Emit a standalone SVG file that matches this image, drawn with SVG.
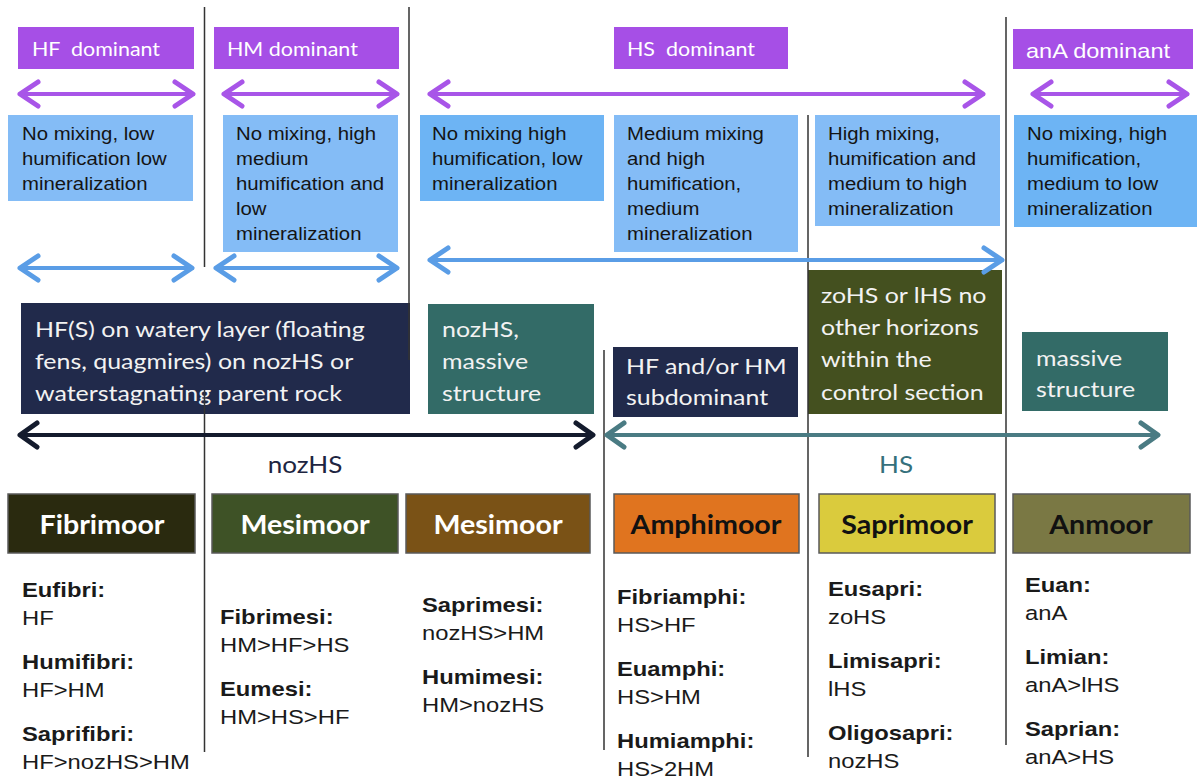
<svg xmlns="http://www.w3.org/2000/svg" width="1197" height="780" viewBox="0 0 1197 780">
<style>
.hdr{font-family:Lato,"Open Sans",sans-serif;font-size:18.5px;fill:#fff;white-space:pre}
.hdrA{font-family:"Liberation Sans",Arial,sans-serif;font-size:20.5px;fill:#fff}
.pb{fill:#a64fe6}
.lb1{fill:#84bcf6}
.lb2{fill:#6db4f4}
.bt{font-family:"Liberation Sans",Arial,sans-serif;font-size:18.5px;fill:#141414}
.dt{font-family:Lato,"Open Sans",sans-serif;font-size:21.5px;fill:#f2f2f2}
.navy{fill:#212a4b}
.teal{fill:#336b67}
.olive{fill:#44501f}
.cat{stroke:#5a5a5a;stroke-width:1.5}
.ct{font-family:Lato,"Open Sans",sans-serif;font-size:26px;font-weight:bold;text-anchor:middle}
.lab{font-family:"Liberation Sans",Arial,sans-serif;font-size:20.5px;fill:#1a1a1a}
.lab .k{font-weight:bold}
.vl{stroke:#333;stroke-width:1.5;fill:none}
.arr{fill:none;stroke-width:4}
.axl{font-family:Lato,"Open Sans",sans-serif;font-size:22.5px;text-anchor:middle}
</style>
<defs>
<marker id="mP" markerUnits="userSpaceOnUse" viewBox="-22 -15 26 30" refX="-2" refY="0" markerWidth="26" markerHeight="30" orient="auto-start-reverse"><path d="M-18,-12 L0,0 L-18,12" fill="none" stroke="#a855e8" stroke-width="5" stroke-linecap="round" stroke-linejoin="round"/></marker>
<marker id="mB" markerUnits="userSpaceOnUse" viewBox="-22 -15 26 30" refX="-2" refY="0" markerWidth="26" markerHeight="30" orient="auto-start-reverse"><path d="M-18,-12 L0,0 L-18,12" fill="none" stroke="#5a9de6" stroke-width="5" stroke-linecap="round" stroke-linejoin="round"/></marker>
<marker id="mD" markerUnits="userSpaceOnUse" viewBox="-22 -15 26 30" refX="-2" refY="0" markerWidth="26" markerHeight="30" orient="auto-start-reverse"><path d="M-17,-12 L0,0 L-17,12" fill="none" stroke="#141b2d" stroke-width="5" stroke-linecap="round" stroke-linejoin="round"/></marker>
<marker id="mT" markerUnits="userSpaceOnUse" viewBox="-22 -15 26 30" refX="-2" refY="0" markerWidth="26" markerHeight="30" orient="auto-start-reverse"><path d="M-17,-12 L0,0 L-17,12" fill="none" stroke="#4a7b83" stroke-width="5" stroke-linecap="round" stroke-linejoin="round"/></marker>
</defs>
<rect width="1197" height="780" fill="#fff"/>

<!-- dominance headers -->
<g id="hdr-hf"><rect class="pb" x="18" y="27" width="176" height="42"/><text class="hdr" transform="translate(32 56) scale(1.16 1)" xml:space="preserve">HF  dominant</text></g>
<g id="hdr-hm"><rect class="pb" x="214" y="27" width="185" height="42"/><text class="hdr" transform="translate(227 56) scale(1.16 1)">HM dominant</text></g>
<g id="hdr-hs"><rect class="pb" x="614" y="27" width="174" height="42"/><text class="hdr" transform="translate(627 56) scale(1.16 1)" xml:space="preserve">HS  dominant</text></g>
<g id="hdr-ana"><rect class="pb" x="1013" y="29" width="180" height="40"/><text class="hdrA" transform="translate(1026 58) scale(1.15 1)">anA dominant</text></g>

<!-- process descriptions -->
<g id="desc-1"><rect class="lb1" x="8" y="115" width="185" height="86"/><text class="bt" transform="translate(22 0) scale(1.1 1)"><tspan x="0" y="140">No mixing, low</tspan><tspan x="0" y="165">humification low</tspan><tspan x="0" y="190">mineralization</tspan></text></g>
<g id="desc-2"><rect class="lb1" x="223" y="115" width="175" height="137"/><text class="bt" transform="translate(236 0) scale(1.1 1)"><tspan x="0" y="140">No mixing, high</tspan><tspan x="0" y="165">medium</tspan><tspan x="0" y="190">humification and</tspan><tspan x="0" y="215">low</tspan><tspan x="0" y="240">mineralization</tspan></text></g>
<g id="desc-3"><rect class="lb2" x="420" y="115" width="184" height="86"/><text class="bt" transform="translate(432 0) scale(1.1 1)"><tspan x="0" y="140">No mixing high</tspan><tspan x="0" y="165">humification, low</tspan><tspan x="0" y="190">mineralization</tspan></text></g>
<g id="desc-4"><rect class="lb1" x="614" y="115" width="184" height="137"/><text class="bt" transform="translate(627 0) scale(1.1 1)"><tspan x="0" y="140">Medium mixing</tspan><tspan x="0" y="165">and high</tspan><tspan x="0" y="190">humification,</tspan><tspan x="0" y="215">medium</tspan><tspan x="0" y="240">mineralization</tspan></text></g>
<g id="desc-5"><rect class="lb1" x="815" y="115" width="185" height="111"/><text class="bt" transform="translate(828 0) scale(1.1 1)"><tspan x="0" y="140">High mixing,</tspan><tspan x="0" y="165">humification and</tspan><tspan x="0" y="190">medium to high</tspan><tspan x="0" y="215">mineralization</tspan></text></g>
<g id="desc-6"><rect class="lb2" x="1014" y="115" width="183" height="112"/><text class="bt" transform="translate(1027 0) scale(1.1 1)"><tspan x="0" y="140">No mixing, high</tspan><tspan x="0" y="165">humification,</tspan><tspan x="0" y="190">medium to low</tspan><tspan x="0" y="215">mineralization</tspan></text></g>

<!-- horizon descriptions -->
<g id="hz-hfs"><rect class="navy" x="21" y="303" width="389" height="111"/><text class="dt" transform="translate(35 0) scale(1.16 1)"><tspan x="0" y="337">HF(S) on watery layer (floating</tspan><tspan x="0" y="369">fens, quagmires) on nozHS or</tspan><tspan x="0" y="401">waterstagnating parent rock</tspan></text></g>
<g id="hz-noz"><rect class="teal" x="428" y="304" width="166" height="110"/><text class="dt" transform="translate(442 0) scale(1.16 1)"><tspan x="0" y="337">nozHS,</tspan><tspan x="0" y="369">massive</tspan><tspan x="0" y="401">structure</tspan></text></g>
<g id="hz-sub"><rect class="navy" x="613" y="347" width="185" height="70"/><text class="dt" transform="translate(626 0) scale(1.16 1)"><tspan x="0" y="374">HF and/or HM</tspan><tspan x="0" y="405">subdominant</tspan></text></g>
<g id="hz-zo"><rect class="olive" x="808" y="270" width="194" height="144"/><text class="dt" transform="translate(821 0) scale(1.16 1)"><tspan x="0" y="303">zoHS or lHS no</tspan><tspan x="0" y="335">other horizons</tspan><tspan x="0" y="367">within the</tspan><tspan x="0" y="400">control section</tspan></text></g>
<g id="hz-mass"><rect class="teal" x="1022" y="332" width="146" height="79"/><text class="dt" transform="translate(1036 0) scale(1.16 1)"><tspan x="0" y="366">massive</tspan><tspan x="0" y="397">structure</tspan></text></g>

<!-- moor types -->
<g id="t-fibri"><rect class="cat" x="8" y="494" width="187" height="59" fill="#2a2a0f"/><text class="ct" fill="#fff" transform="translate(102 534) scale(1.1 1)">Fibrimoor</text></g>
<g id="t-mesi1"><rect class="cat" x="212" y="494" width="186" height="59" fill="#3e5226"/><text class="ct" fill="#fff" transform="translate(305 534) scale(1.1 1)">Mesimoor</text></g>
<g id="t-mesi2"><rect class="cat" x="406" y="494" width="184" height="59" fill="#7a5216"/><text class="ct" fill="#fff" transform="translate(498 534) scale(1.1 1)">Mesimoor</text></g>
<g id="t-amphi"><rect class="cat" x="614" y="494" width="185" height="59" fill="#e0741f"/><text class="ct" fill="#111" transform="translate(706 534) scale(1.1 1)">Amphimoor</text></g>
<g id="t-sapri"><rect class="cat" x="819" y="494" width="176" height="59" fill="#dacb3d"/><text class="ct" fill="#111" transform="translate(907 534) scale(1.1 1)">Saprimoor</text></g>
<g id="t-an"><rect class="cat" x="1013" y="494" width="177" height="59" fill="#7a7844"/><text class="ct" fill="#111" transform="translate(1101 534) scale(1.1 1)">Anmoor</text></g>

<!-- subtypes -->
<g id="s-fibri"><text class="lab" transform="translate(22 0) scale(1.16 1)"><tspan class="k" x="0" y="597">Eufibri:</tspan><tspan x="0" y="625">HF</tspan><tspan class="k" x="0" y="669">Humifibri:</tspan><tspan x="0" y="697">HF&gt;HM</tspan><tspan class="k" x="0" y="741">Saprifibri:</tspan><tspan x="0" y="769">HF&gt;nozHS&gt;HM</tspan></text></g>
<g id="s-mesi1"><text class="lab" transform="translate(220 0) scale(1.16 1)"><tspan class="k" x="0" y="624">Fibrimesi:</tspan><tspan x="0" y="652">HM&gt;HF&gt;HS</tspan><tspan class="k" x="0" y="696">Eumesi:</tspan><tspan x="0" y="724">HM&gt;HS&gt;HF</tspan></text></g>
<g id="s-mesi2"><text class="lab" transform="translate(422 0) scale(1.16 1)"><tspan class="k" x="0" y="612">Saprimesi:</tspan><tspan x="0" y="640">nozHS&gt;HM</tspan><tspan class="k" x="0" y="684">Humimesi:</tspan><tspan x="0" y="712">HM&gt;nozHS</tspan></text></g>
<g id="s-amphi"><text class="lab" transform="translate(617 0) scale(1.16 1)"><tspan class="k" x="0" y="604">Fibriamphi:</tspan><tspan x="0" y="632">HS&gt;HF</tspan><tspan class="k" x="0" y="676">Euamphi:</tspan><tspan x="0" y="704">HS&gt;HM</tspan><tspan class="k" x="0" y="748">Humiamphi:</tspan><tspan x="0" y="776">HS&gt;2HM</tspan></text></g>
<g id="s-sapri"><text class="lab" transform="translate(828 0) scale(1.16 1)"><tspan class="k" x="0" y="596">Eusapri:</tspan><tspan x="0" y="624">zoHS</tspan><tspan class="k" x="0" y="668">Limisapri:</tspan><tspan x="0" y="696">lHS</tspan><tspan class="k" x="0" y="740">Oligosapri:</tspan><tspan x="0" y="768">nozHS</tspan></text></g>
<g id="s-an"><text class="lab" transform="translate(1025 0) scale(1.16 1)"><tspan class="k" x="0" y="592">Euan:</tspan><tspan x="0" y="620">anA</tspan><tspan class="k" x="0" y="664">Limian:</tspan><tspan x="0" y="692">anA&gt;lHS</tspan><tspan class="k" x="0" y="736">Saprian:</tspan><tspan x="0" y="764">anA&gt;HS</tspan></text></g>

<!-- connectors: divider lines and range arrows -->
<g id="connectors">
<path class="vl" d="M204.5,7 V267 M204.5,390 V752 M409,7 V360 M604,350 V750 M808,115 V757 M1006,17 V745"/>
<line class="arr" stroke="#a855e8" x1="22" y1="94" x2="191" y2="94" marker-start="url(#mP)" marker-end="url(#mP)"/>
<line class="arr" stroke="#a855e8" x1="226" y1="94" x2="395" y2="94" marker-start="url(#mP)" marker-end="url(#mP)"/>
<line class="arr" stroke="#a855e8" x1="432" y1="94" x2="981" y2="94" marker-start="url(#mP)" marker-end="url(#mP)"/>
<line class="arr" stroke="#a855e8" x1="1035" y1="94" x2="1185" y2="94" marker-start="url(#mP)" marker-end="url(#mP)"/>
<line class="arr" stroke="#5a9de6" x1="22" y1="268" x2="190" y2="268" marker-start="url(#mB)" marker-end="url(#mB)"/>
<line class="arr" stroke="#5a9de6" x1="218" y1="268" x2="395" y2="268" marker-start="url(#mB)" marker-end="url(#mB)"/>
<line class="arr" stroke="#5a9de6" x1="432" y1="260" x2="1000" y2="260" marker-start="url(#mB)" marker-end="url(#mB)"/>
<line class="arr" stroke="#141b2d" stroke-width="4.5" x1="22" y1="435" x2="591" y2="435" marker-start="url(#mD)" marker-end="url(#mD)"/>
<line class="arr" stroke="#4a7b83" x1="609" y1="435" x2="1156" y2="435" marker-start="url(#mT)" marker-end="url(#mT)"/>
<text class="axl" fill="#1e2541" transform="translate(305 473) scale(1.16 1)">nozHS</text>
<text class="axl" fill="#35707c" transform="translate(896 473) scale(1.16 1)">HS</text>
</g>
</svg>
